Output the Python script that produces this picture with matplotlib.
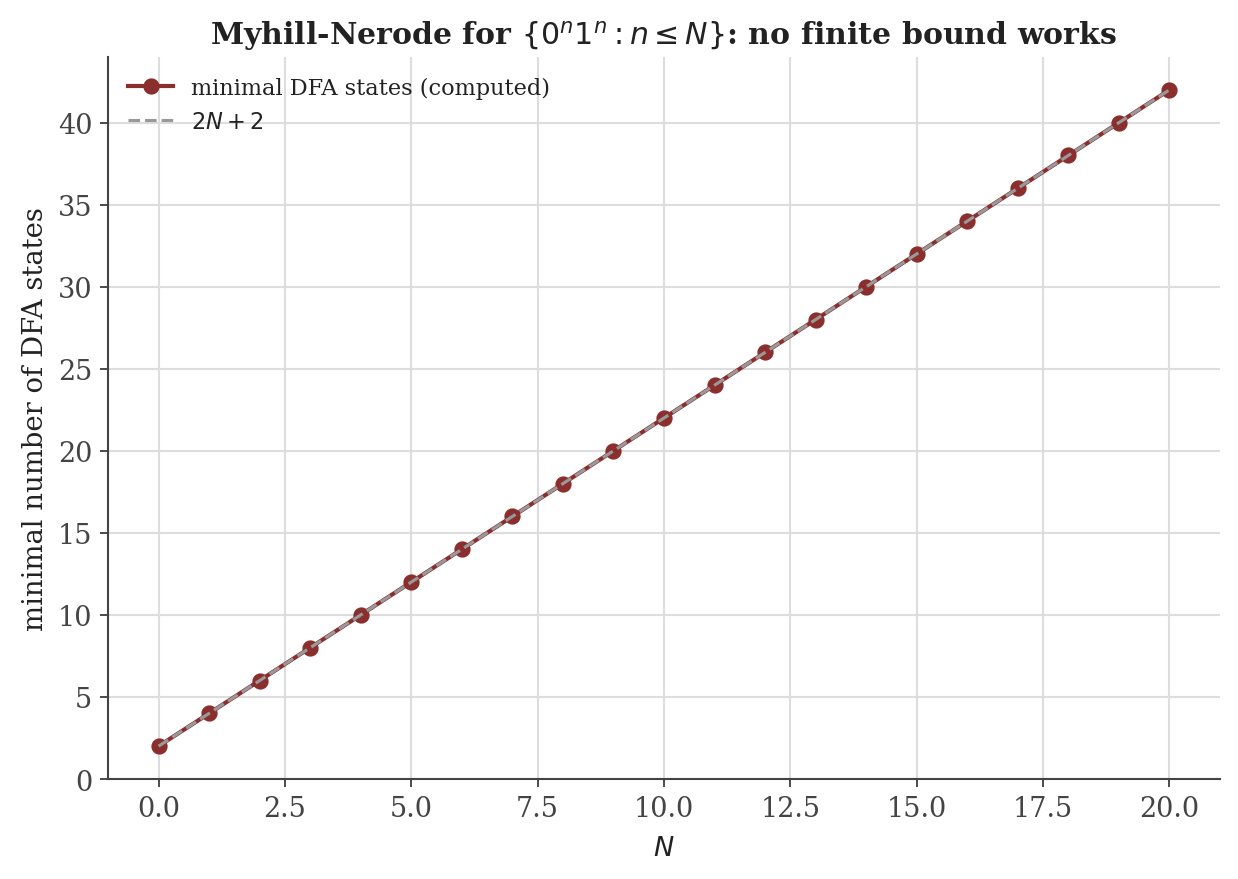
import matplotlib

matplotlib.use('Agg')

import matplotlib.pyplot as plt

# values
N_vals = [0, 1, 2, 3, 4, 5, 6, 7, 8, 9, 10, 11, 12, 13, 14, 15, 16, 17, 18, 19, 20]
dfa_states = [2, 4, 6, 8, 10, 12, 14, 16, 18, 20, 22, 24, 26, 28, 30, 32, 34, 36, 38, 40, 42]
bound_vals = [2, 4, 6, 8, 10, 12, 14, 16, 18, 20, 22, 24, 26, 28, 30, 32, 34, 36, 38, 40, 42]

plt.rcParams['font.family'] = ['DejaVu Serif']

fig = plt.figure(figsize=(1238 / 150, 880 / 150), dpi=150)
ax = fig.add_axes([0.0872, 0.1136, 0.8983, 0.8205])

ax.plot(N_vals, dfa_states, color='#8b2e2e', marker='o', markersize=6.8,
        linewidth=2.0, label='minimal DFA states (computed)', zorder=3)
ax.plot(N_vals, bound_vals, color='#999999', linestyle='--', linewidth=1.5,
        label='$2N+2$', zorder=4)

ax.set_xlim(-1, 21)
ax.set_ylim(0, 44)
ax.grid(True, color='#dddddd', linewidth=1.0)
ax.set_axisbelow(True)
for side in ('top', 'right'):
    ax.spines[side].set_visible(False)
for side in ('left', 'bottom'):
    ax.spines[side].set_color('#444444')
    ax.spines[side].set_linewidth(1.0)
ax.tick_params(colors='#444444', labelsize=13, length=4, width=0.9)

ax.set_xlabel('$N$', fontsize=13, color='#222222', labelpad=6)
ax.set_ylabel('minimal number of DFA states', fontsize=13.2, color='#222222')
ax.set_title('Myhill-Nerode for $\\{0^n1^n : n \\leq N\\}$: no finite bound works',
             fontsize=14.4, fontweight='bold', color='#222222', pad=6.5)

leg = ax.legend(loc='upper left', frameon=False, fontsize=10.8)
for t in leg.get_texts():
    t.set_color('#222222')

fig.savefig('out.png', dpi=150)
